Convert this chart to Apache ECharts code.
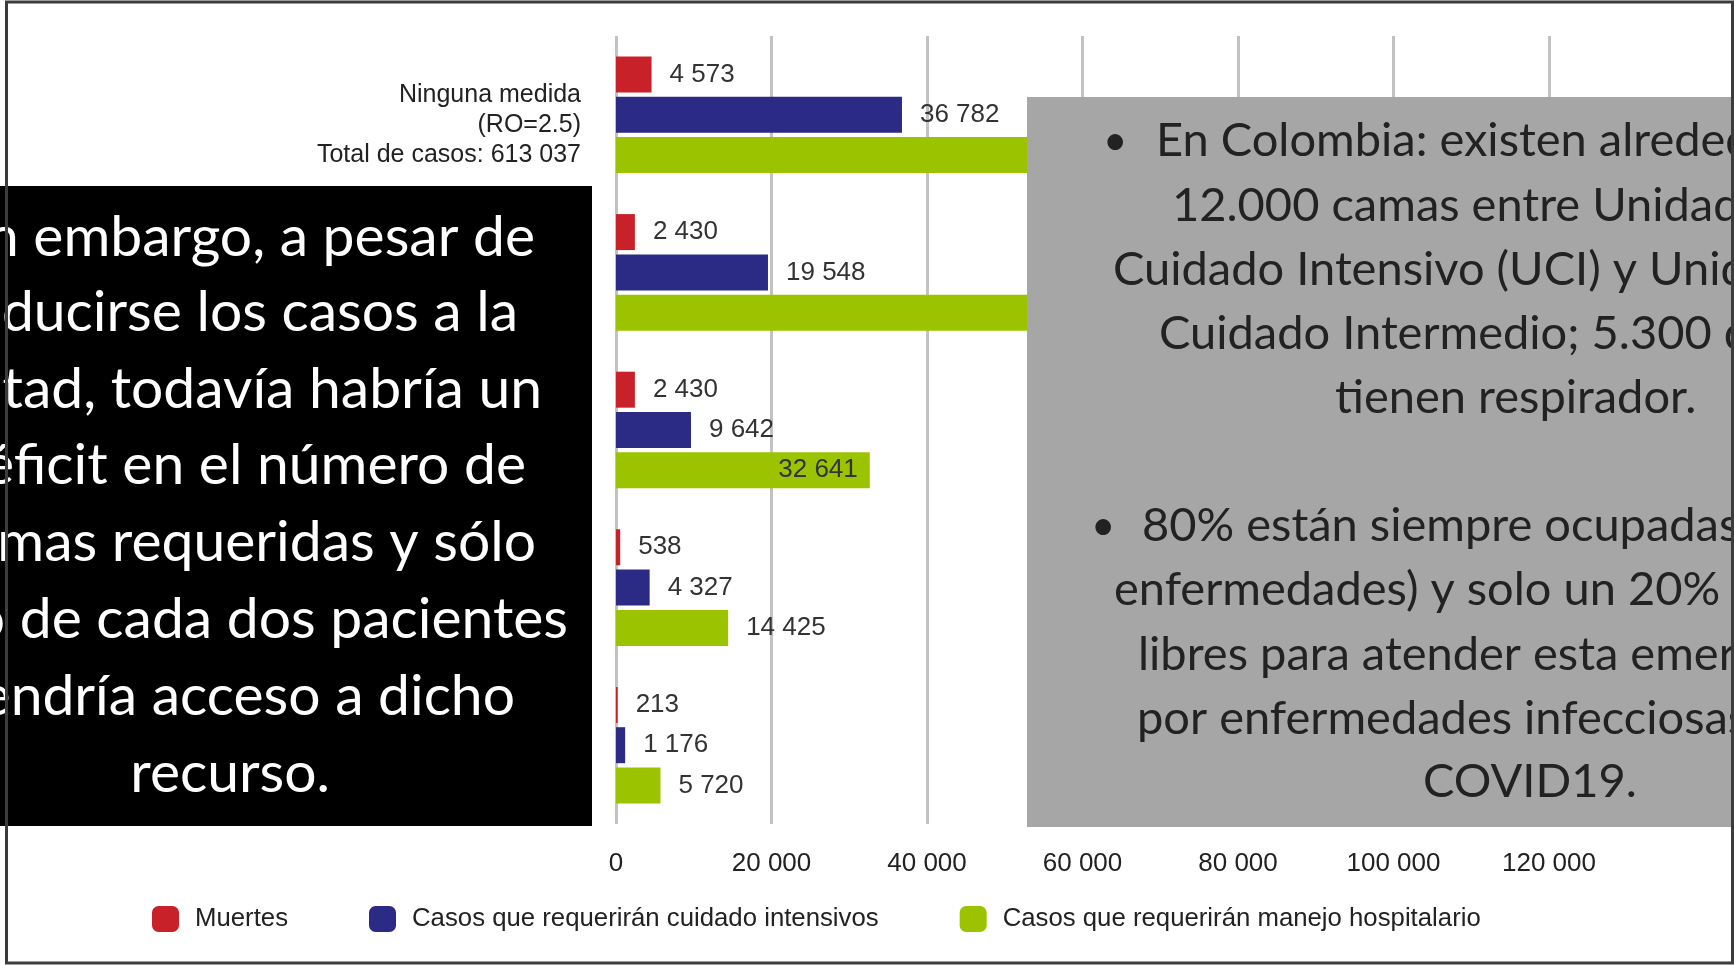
<!DOCTYPE html>
<html>
<head>
<meta charset="utf-8">
<script src="https://cdn.jsdelivr.net/npm/echarts@6/dist/echarts.min.js"></script>
<style>
  html, body { margin: 0; padding: 0; background: #fff; }
  #chart { width: 1734px; height: 965px; }
</style>
</head>
<body>
<div id="chart"></div>
<script>
// escenarios (solo el primero es visible, el resto queda bajo el recuadro negro)
const categories = ['Ninguna medida\n(RO=2.5)\nTotal de casos: 613 037', '', '', '', '']
const seriesNames = ['Muertes', 'Casos que requerirán cuidado intensivos', 'Casos que requerirán manejo hospitalario']
const muertes = [4573, 2430, 2430, 538, 213]
const cuidadoIntensivo = [36782, 19548, 9642, 4327, 1176]
// los dos primeros valores quedan tapados por el recuadro gris (estimados)
const manejoHospitalario = [122607, 65160, 32641, 14425, 5720]
const xTicks = [0, 20000, 40000, 60000, 80000, 100000, 120000]

const colors = ['#c9212a', '#2b2a84', '#9bc300']

// textos de los recuadros de la diapositiva
const blackBoxLines = [
  'Sin embargo, a pesar de',
  'reducirse los casos a la',
  'mitad, todavía habría un',
  'déficit en el número de',
  'camas requeridas y sólo',
  'uno de cada dos pacientes',
  'tendría acceso a dicho',
  'recurso.'
]
const grayBoxLines = [
  'En Colombia: existen alrededor de',
  '12.000 camas entre Unidades de',
  'Cuidado Intensivo (UCI) y Unidades de',
  'Cuidado Intermedio; 5.300 de ellas',
  'tienen respirador.',
  '',
  '80% están siempre ocupadas (otras',
  'enfermedades) y solo un 20% estarían',
  'libres para atender esta emergencia',
  'por enfermedades infecciosas como',
  'COVID19.'
]

const chart = echarts.init(document.getElementById('chart'))

function fmt(v) {
  return String(v).replace(/\B(?=(\d{3})+(?!\d))/g, ' ')
}

const labelBase = {
  show: true,
  position: 'right',
  distance: 18,
  color: '#333',
  fontFamily: 'Liberation Sans',
  fontSize: 26,
  formatter: p => fmt(p.value)
}

// posiciones de línea (layout de la diapositiva)
const blackRight = [535, 518, 542, 526, 536, 568, 515, 330]
const blackY = [238, 313, 390, 466, 543, 620, 697, 774]
const grayLeft = [1156, 1172, 1113, 1159, 1335, 0, 1142, 1114, 1138, 1137, 1423]
const grayY = [141, 206, 270, 334, 398, 0, 526, 590, 655, 719, 782]

const graphics = [
  { type: 'rect', z: 100, shape: { x: 0, y: 186, width: 592, height: 640 }, style: { fill: '#000' } },
  { type: 'rect', z: 100, shape: { x: 1027, y: 97, width: 720, height: 730 }, style: { fill: '#a6a6a6' } },
  { type: 'rect', z: 102, shape: { x: 6.5, y: 2, width: 1726, height: 961 }, style: { fill: 'none', stroke: '#3c3c3c', lineWidth: 3 } }
]
blackBoxLines.forEach((t, i) => {
  graphics.push({
    type: 'text', z: 101, x: blackRight[i], y: blackY[i],
    style: { text: t, fill: '#fff', font: '57px Lato', textAlign: 'right', textVerticalAlign: 'middle' }
  })
})
grayBoxLines.forEach((t, i) => {
  if (!t) return
  graphics.push({
    type: 'text', z: 101, x: grayLeft[i], y: grayY[i],
    style: { text: t, fill: '#222', font: '47px Lato', textAlign: 'left', textVerticalAlign: 'middle' }
  })
})
// viñetas
graphics.push({ type: 'text', z: 101, x: 1103, y: grayY[0], style: { text: '•', fill: '#222', font: '42px Lato', textAlign: 'left', textVerticalAlign: 'middle' } })
graphics.push({ type: 'text', z: 101, x: 1091, y: grayY[6], style: { text: '•', fill: '#222', font: '42px Lato', textAlign: 'left', textVerticalAlign: 'middle' } })

const option = {
  backgroundColor: '#fff',
  animation: false,
  color: colors,
  grid: { left: 616, right: 185, top: 36, bottom: 141, containLabel: false },
  legend: {
    left: 147,
    top: 901,
    itemWidth: 27,
    itemHeight: 26,
    itemGap: 81,
    icon: 'roundRect',
    textStyle: { fontFamily: 'Liberation Sans', fontSize: 25.75, color: '#222', padding: [0, 0, 0, 11] },
    data: seriesNames
  },
  xAxis: {
    type: 'value',
    min: 0,
    max: 120000,
    interval: 20000,
    axisLine: { show: false },
    axisTick: { show: false },
    splitLine: { show: true, lineStyle: { color: '#c2c2c2', width: 3 } },
    axisLabel: {
      margin: 27,
      color: '#222',
      fontFamily: 'Liberation Sans',
      fontSize: 26,
      formatter: v => xTicks.includes(v) ? fmt(v) : ''
    }
  },
  yAxis: {
    type: 'category',
    inverse: true,
    data: categories,
    axisLine: { show: false },
    axisTick: { show: false },
    axisLabel: {
      margin: 35,
      align: 'right',
      // línea vacía arriba para bajar el bloque de texto
      formatter: v => v ? '{gap|}\n' + v.split('\n').map(s => '{t|' + s + '}').join('\n') : '',
      rich: {
        gap: { lineHeight: 20, fontSize: 10 },
        t: { color: '#222', fontFamily: 'Liberation Sans', fontSize: 25, lineHeight: 30, align: 'right' }
      }
    }
  },
  series: [
    {
      name: seriesNames[0], type: 'bar', barWidth: 36, barGap: '12%',
      label: labelBase, data: muertes
    },
    {
      name: seriesNames[1], type: 'bar', barWidth: 36, barGap: '12%',
      label: labelBase, data: cuidadoIntensivo
    },
    {
      name: seriesNames[2], type: 'bar', barWidth: 36, barGap: '12%',
      label: labelBase,
      data: manejoHospitalario.map((v, i) => i === 2
        ? { value: v, label: { position: 'insideRight', distance: 12 } }
        : v)
    }
  ],
  graphic: graphics
}

chart.setOption(option)
</script>
</body>
</html>
